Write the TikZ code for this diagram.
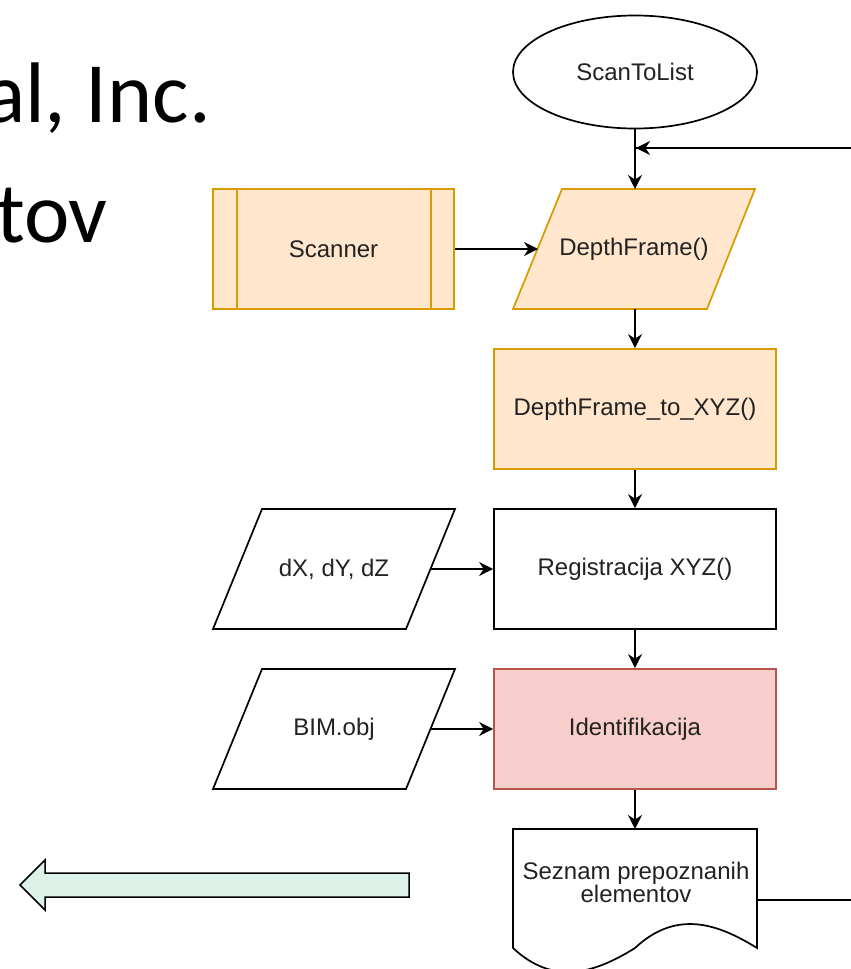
\documentclass[tikz,border=0pt]{standalone}
\usepackage{fontspec}
\setmainfont{Liberation Sans}
\newfontfamily\slidefont{Carlito}
\usetikzlibrary{arrows.meta,shapes.geometric}
\definecolor{orfill}{HTML}{FFE6CC}
\definecolor{ordraw}{HTML}{D79B00}
\definecolor{rdfill}{HTML}{F8CECC}
\definecolor{rddraw}{HTML}{B85450}
\definecolor{mint}{HTML}{DCF1E8}
\definecolor{txtc}{HTML}{222222}
\tikzset{
  shp/.style={line width=1.7pt, line join=miter},
  blk/.style={shp, draw=black},
  orng/.style={shp, draw=ordraw, fill=orfill},
  rd/.style={shp, draw=rddraw, fill=rdfill},
  lbl/.style={font=\fontsize{24}{28}\selectfont, text=txtc, align=center, inner sep=0pt},
  boxnode/.style={lbl, minimum width=282pt, minimum height=120pt, shp},
  arr/.style={line width=1.7pt, draw=black, -{Stealth[length=14pt,width=14pt,inset=4.5pt]}},
  conn/.style={line width=1.7pt, draw=black},
  slidetxt/.style={font=\slidefont\fontsize{86}{100}\selectfont, inner sep=0pt, anchor=base east}
}
\begin{document}
\begin{tikzpicture}[x=1pt,y=-1pt]
\useasboundingbox (0,0) rectangle (851,969);
\clip (0,0) rectangle (851,969);
\fill[white] (0,0) rectangle (851,969);

% slide text (cut off at the left, as in the source slide)
\node[slidetxt] (t1) at (211,122) {al, Inc.};
\node[slidetxt] (t2) at (108,242) {tov};

% start ellipse
\node[ellipse, blk, fill=white, minimum width=244pt, minimum height=113pt, lbl, shp] (start) at (635,72) {ScanToList};

% Scanner (subroutine)
\node[boxnode, orng, minimum width=241pt] (scan) at (333.5,249) {Scanner};
\draw[shp, draw=ordraw] ([xshift=25pt]scan.north west) -- ([xshift=25pt]scan.south west);
\draw[shp, draw=ordraw] ([xshift=-24pt]scan.north east) -- ([xshift=-24pt]scan.south east);

% DepthFrame() parallelogram
\coordinate (dfTL) at (562,189); \coordinate (dfTR) at (755,189);
\coordinate (dfBR) at (707,309); \coordinate (dfBL) at (513,309);
\draw[orng] (dfTL) -- (dfTR) -- (dfBR) -- (dfBL) -- cycle;
\node[lbl] (df) at (634,249) {DepthFrame()};
\coordinate (dfT) at (635,189);
\coordinate (dfB) at (635,309);
\coordinate (dfL) at (538,249);

% process boxes
\node[boxnode, orng] (xyz) at (635,409) {DepthFrame\_to\_XYZ()};
\node[boxnode, blk, fill=white] (reg) at (635,569) {Registracija XYZ()};
\node[boxnode, rd] (idf) at (635,729) {Identifikacija};

% input parallelograms
\draw[blk, fill=white] (262,509) -- (455,509) -- (406,629) -- (213,629) -- cycle;
\node[lbl] (dxyz) at (334,569) {dX, dY, dZ};
\coordinate (dxyzR) at (431,569);
\draw[blk, fill=white] (262,669) -- (455,669) -- (406,789) -- (213,789) -- cycle;
\node[lbl] (bim) at (334,729) {BIM.obj};
\coordinate (bimR) at (431,729);

% document shape
\draw[blk, fill=white] (513,829) -- (757,829) -- (757,948)
  .. controls (716.3,922.7) and (675.7,910) .. (635,948)
  .. controls (594.3,973.3) and (553.7,986) .. (513,948) -- cycle;
\node[lbl, font=\fontsize{24}{23}\selectfont] (doc) at (636,882) {Seznam prepoznanih\\elementov};
\coordinate (docR) at (757,900);
\coordinate (docT) at (635,829);

% feedback loop
\coordinate (fbA) at (900,900);
\coordinate (fbB) at (900,148);
\coordinate (fbC) at (635,148);
\draw[conn] (docR) -- (fbA) -- (fbB) -- (fbC);
\draw[line width=1.7pt, -{Stealth[length=14pt,width=14pt,inset=4.5pt]}] (fbB) -- (636,148);

% connectors
\draw[arr] (start.south) -- (dfT);
\draw[arr] (scan.east) -- (dfL);
\draw[arr] (dfB) -- (xyz.north);
\draw[arr] (xyz.south) -- (reg.north);
\draw[arr] (dxyzR) -- (reg.west);
\draw[arr] (reg.south) -- (idf.north);
\draw[arr] (bimR) -- (idf.west);
\draw[arr] (idf.south) -- (docT);

% big left arrow
\draw[line width=1.5pt, draw=black, fill=mint, line join=miter]
  (409,873) -- (45,873) -- (45,860) -- (20,885) -- (45,910) -- (45,897) -- (409,897) -- cycle;
\end{tikzpicture}
\end{document}
